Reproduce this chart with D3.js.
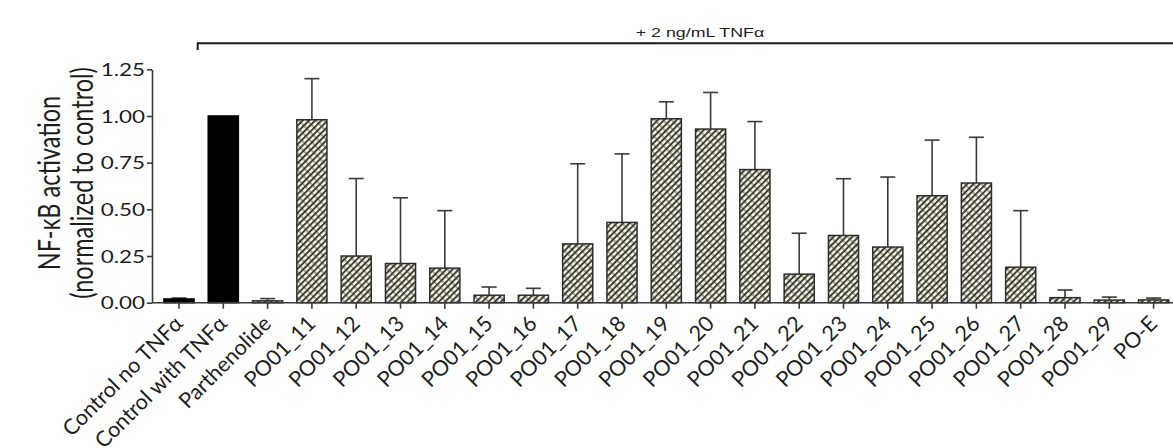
<!DOCTYPE html>
<html>
<head>
<meta charset="utf-8">
<script src="https://cdn.jsdelivr.net/npm/d3@7"></script>
<style>
  body { margin: 0; background: #fff; }
  text { fill: #1e1e1e; }
</style>
</head>
<body>
<svg id="chart" width="1173" height="448"></svg>
<script>
/////////////////////////////////
// DATA
//////////////////////////////////

var categories = ["Control no TNF\u03b1", "Control with TNF\u03b1", "Parthenolide",
  "PO01_11", "PO01_12", "PO01_13", "PO01_14", "PO01_15", "PO01_16", "PO01_17",
  "PO01_18", "PO01_19", "PO01_20", "PO01_21", "PO01_22", "PO01_23", "PO01_24",
  "PO01_25", "PO01_26", "PO01_27", "PO01_28", "PO01_29", "PO-E"];

// mean activation (normalized to control)
var means = [0.02, 1.00, 0.01, 0.98, 0.25, 0.21, 0.185, 0.04, 0.04, 0.315,
  0.43, 0.985, 0.93, 0.713, 0.153, 0.36, 0.298, 0.573, 0.641, 0.19, 0.027, 0.014, 0.015];

// top of the error bar (mean + SD)
var upper = [0.025, 1.00, 0.022, 1.20, 0.665, 0.562, 0.493, 0.084, 0.077, 0.744,
  0.797, 1.076, 1.126, 0.97, 0.372, 0.664, 0.673, 0.871, 0.886, 0.493, 0.068, 0.030, 0.025];

// which bars are solid black
var solid = [true, true, false];

var yTicks = [0, 0.25, 0.5, 0.75, 1.0, 1.25];

/////////////////////////////////
// SCALES
//////////////////////////////////

var svg = d3.select("#chart");
var stretch = 1.32; // the source picture is squeezed wider than it is tall

var x = d3.scaleBand()
  .domain(categories)
  .range([156.85, 1175.75])
  .paddingInner(0.32)
  .paddingOuter(0.16);

var y = d3.scaleLinear()
  .domain([0, 1.25])
  .range([302.7, 69.3]);

// hatch fill: light dashes between thick dark "/" lines
var defs = svg.append("defs");
var pat = defs.append("pattern")
  .attr("id", "hatch")
  .attr("patternUnits", "userSpaceOnUse")
  .attr("width", 6)
  .attr("height", 4.4)
  .attr("patternTransform", "rotate(-45)");
pat.append("rect").attr("width", 6).attr("height", 4.4).attr("fill", "#34342f");
pat.append("rect").attr("x", 0.4).attr("y", 1.0).attr("width", 5.2).attr("height", 2.6).attr("fill", "#f7f5e3");

/////////////////////////////////
// BARS
//////////////////////////////////

var rows = categories.map(function(c, i) {
  return {name: c, mean: means[i], up: upper[i], solid: solid[i] === true};
});

// error bars first so the bar sits on top of the stem
var err = svg.append("g").attr("class", "errors")
  .selectAll("g").data(rows).enter().append("g");

err.filter(function(d) { return d.up > d.mean; })
  .append("line")
    .attr("x1", function(d) { return x(d.name) + x.bandwidth() / 2; })
    .attr("x2", function(d) { return x(d.name) + x.bandwidth() / 2; })
    .attr("y1", function(d) { return y(d.mean); })
    .attr("y2", function(d) { return y(d.up); })
    .attr("stroke", "#3a3a3a")
    .attr("stroke-width", 1.6);

err.filter(function(d) { return d.up > d.mean; })
  .append("line")
    .attr("x1", function(d) { return x(d.name) + x.bandwidth() / 2 - 7.5; })
    .attr("x2", function(d) { return x(d.name) + x.bandwidth() / 2 + 7.5; })
    .attr("y1", function(d) { return y(d.up); })
    .attr("y2", function(d) { return y(d.up); })
    .attr("stroke", "#3a3a3a")
    .attr("stroke-width", 1.6);

svg.append("g").attr("class", "bars")
  .selectAll("rect").data(rows).enter().append("rect")
    .attr("x", function(d) { return x(d.name); })
    .attr("y", function(d) { return y(d.mean); })
    .attr("width", x.bandwidth())
    .attr("height", function(d) { return y(0) - y(d.mean); })
    .attr("fill", function(d) { return d.solid ? "#000" : "url(#hatch)"; })
    .attr("stroke", function(d) { return d.solid ? "#000" : "#2e2e2e"; })
    .attr("stroke-width", 1.5);

/////////////////////////////////
// AXES
//////////////////////////////////

var yAxis = svg.append("g")
  .attr("transform", "translate(152,0)")
  .call(d3.axisLeft(y).tickValues(yTicks).tickFormat(d3.format(".2f")).tickSize(5).tickSizeOuter(0));

yAxis.select(".domain").attr("stroke", "#3a3a3a").attr("stroke-width", 1.6);
yAxis.selectAll(".tick line").attr("stroke", "#3a3a3a").attr("stroke-width", 1.6);
yAxis.selectAll(".tick text")
  .attr("x", 0)
  .attr("dy", "0.36em")
  .attr("font-family", "Lato, sans-serif")
  .attr("font-size", 17)
  .attr("fill", "#1e1e1e")
  .attr("transform", "translate(-7,0) scale(" + stretch + ",1)");

var xAxis = svg.append("g")
  .attr("transform", "translate(0," + y(0) + ")");

xAxis.append("line")
  .attr("x1", 152).attr("x2", 1173)
  .attr("stroke", "#3a3a3a").attr("stroke-width", 1.6);

xAxis.selectAll(".xtick").data(categories).enter().append("line")
  .attr("class", "xtick")
  .attr("x1", function(d) { return x(d) + x.bandwidth() / 2; })
  .attr("x2", function(d) { return x(d) + x.bandwidth() / 2; })
  .attr("y1", 0).attr("y2", 6)
  .attr("stroke", "#3a3a3a").attr("stroke-width", 1.6);

// category labels at 45 degrees
svg.append("g").selectAll("text").data(categories).enter().append("text")
  .attr("transform", function(d) {
    return "translate(" + (x(d) + x.bandwidth() / 2 + 5) + ",325) rotate(-45)";
  })
  .attr("text-anchor", "end")
  .attr("font-family", "Lato, sans-serif")
  .attr("font-size", 21.5)
  .text(function(d) { return d; });

// y title
var yTitle = svg.append("text")
  .attr("transform", "translate(60,183) scale(" + stretch + ",1) rotate(-90)")
  .attr("text-anchor", "middle")
  .attr("font-family", "Lato, sans-serif")
  .attr("font-size", 23.5);
yTitle.append("tspan").attr("x", 0).attr("y", 0).text("NF-\u03baB activation");
yTitle.append("tspan").attr("x", 0).attr("y", 25).text("(normalized to control)");

/////////////////////////////////
// TREATMENT BRACKET
//////////////////////////////////

var bracket = [197.7, 1173];
svg.append("path")
  .attr("d", "M" + bracket[0] + ",50 V43.3 H" + bracket[1])
  .attr("fill", "none")
  .attr("stroke", "#1a1a1a")
  .attr("stroke-width", 2);

svg.append("text")
  .attr("transform", "translate(700,36.5) scale(" + stretch + ",1)")
  .attr("text-anchor", "middle")
  .attr("font-family", "'Liberation Sans', Arial, sans-serif")
  .attr("font-size", 13.5)
  .text("+ 2 ng/mL TNF\u03b1");
</script>
</body>
</html>
